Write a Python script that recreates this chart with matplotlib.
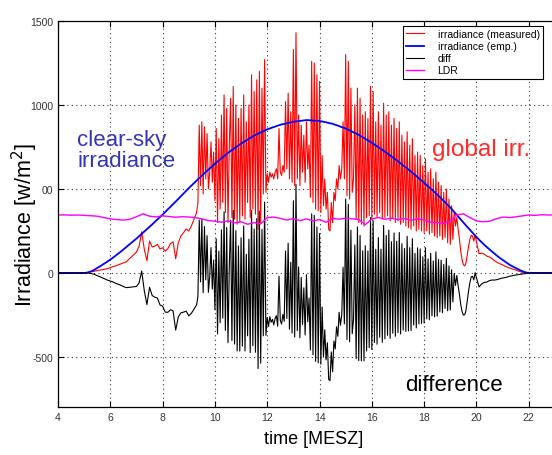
import numpy as np
import matplotlib
matplotlib.use("Agg")
import matplotlib.pyplot as plt

plt.rcParams['font.family'] = ['Liberation Sans', 'DejaVu Sans']

# time axis [h MESZ]: 0.1 h steps morning/evening, 0.05 h around midday
t_am = np.arange(40, 94) / 10.0      # 4.0 .. 9.3
t_mid = np.arange(187, 400) / 20.0   # 9.35 .. 19.95
t_pm = np.arange(200, 241) / 10.0    # 20.0 .. 24.0

# measured global irradiance [W/m2]
meas_am = [0, 0, 0, 0, 0, 0, 0, 0, 0, 0,
           0, 2, 5, 8, 11, 14, 17, 20, 23, 26,
           32, 38, 42, 48, 54, 60, 66, 80, 95, 110,
           125, 160, 245, 140, 73, 190, 155, 160, 170, 143,
           150, 130, 145, 175, 185, 85, 180, 220, 240, 262,
           250, 280, 320, 360]
meas_mid = [420, 880, 520, 900, 470, 870, 560, 830, 500, 600,
            780, 540, 720, 430, 860, 300, 800, 380, 940, 420,
            1060, 360, 980, 300, 760, 1040, 330, 1110, 320, 1000,
            290, 920, 300, 980, 340, 1060, 320, 900, 420, 1000,
            330, 1180, 380, 1080, 350, 1150, 260, 1200, 300, 1100,
            470, 1270, 480, 590, 540, 600, 570, 590, 560, 600,
            620, 560, 860, 600, 580, 640, 600, 1020, 620, 1070,
            560, 960, 540, 1330, 520, 1430, 560, 940, 520, 880,
            600, 820, 540, 900, 620, 760, 450, 1260, 420, 1250,
            380, 1180, 370, 1140, 360, 700, 400, 560, 380, 480,
            260, 250, 420, 300, 480, 430, 560, 500, 640, 560,
            620, 900, 560, 1300, 460, 1260, 440, 1100, 480, 560,
            1000, 320, 1100, 300, 1040, 290, 940, 280, 960, 330,
            920, 340, 1110, 320, 1080, 350, 900, 330, 960, 360,
            880, 320, 1010, 330, 940, 340, 960, 310, 880, 330,
            920, 300, 860, 310, 900, 290, 820, 300, 780, 280,
            840, 270, 760, 260, 800, 280, 700, 250, 720, 260,
            700, 250, 640, 240, 680, 250, 600, 230, 620, 240,
            560, 220, 600, 210, 540, 220, 520, 200, 480, 210,
            500, 180, 440, 170, 400, 200, 360, 280, 330, 260,
            200, 130, 80, 50, 42, 60, 110, 160, 200, 225,
            220, 190, 225]
meas_pm = [185, 115, 118, 112, 100, 95, 85, 72, 62, 55,
           48, 40, 33, 28, 23, 18, 12, 7, 3, 1] + [0] * 21

# empirical clear-sky irradiance [W/m2]
emp_am = [0, 0, 0, 0, 0, 0, 0, 0, 0, 0,
          0, 2, 6, 12, 20, 30, 39, 49, 59, 69,
          80, 91, 103, 115, 127, 140, 153, 166, 179, 192,
          205, 219, 233, 247, 261, 275, 289, 304, 319, 333,
          348, 363, 379, 394, 410, 425, 441, 457, 473, 489,
          505, 520, 535, 550]
emp_mid = [558, 565, 573, 580, 587, 594, 601, 608, 615, 622,
           629, 636, 643, 650, 657, 663, 670, 676, 683, 689,
           696, 702, 709, 715, 721, 726, 732, 737, 743, 748,
           754, 759, 765, 770, 775, 780, 784, 789, 794, 799,
           804, 808, 813, 818, 822, 826, 829, 833, 837, 840,
           844, 848, 851, 855, 858, 860, 863, 866, 869, 871,
           874, 877, 879, 882, 884, 886, 887, 889, 891, 893,
           895, 896, 898, 900, 901, 902, 903, 904, 905, 906,
           907, 908, 909, 910, 910, 909, 909, 908, 907, 907,
           906, 906, 905, 905, 903, 902, 900, 898, 897, 895,
           893, 891, 890, 888, 885, 882, 880, 877, 874, 871,
           868, 866, 863, 860, 856, 852, 849, 845, 841, 837,
           833, 830, 826, 822, 817, 813, 808, 803, 798, 794,
           789, 784, 780, 775, 770, 764, 759, 754, 749, 743,
           738, 733, 727, 722, 716, 711, 705, 699, 694, 688,
           682, 677, 671, 665, 659, 653, 646, 640, 634, 628,
           622, 615, 609, 603, 596, 590, 583, 577, 570, 563,
           557, 550, 544, 537, 530, 523, 516, 509, 502, 495,
           488, 481, 474, 467, 459, 452, 444, 436, 429, 421,
           413, 405, 398, 390, 381, 372, 363, 354, 345, 336,
           327, 318, 309, 300, 291, 283, 274, 266, 257, 248,
           240, 231, 223]
emp_pm = [214, 198, 183, 168, 154, 140, 127, 114, 101, 89,
          78, 67, 56, 46, 38, 30, 22, 14, 8, 3] + [0] * 21

# LDR sensor reading, every 15 min
t_ldr = np.arange(0, 81) / 4.0 + 4.0
ldr = [345, 346, 344, 345, 343, 341, 338, 330, 322, 318,
       315, 320, 335, 352, 338, 334, 340, 336, 332, 335,
       333, 330, 322, 312, 308, 302, 310, 298, 305, 290,
       300, 292, 330, 333, 325, 315, 324, 312, 322, 310,
       318, 302, 325, 320, 327, 322, 318, 288, 322, 330,
       320, 326, 318, 324, 314, 322, 316, 302, 300, 296,
       310, 345, 352, 330, 310, 305, 308, 322, 333, 330,
       334, 340, 345, 343, 347, 345, 346, 344, 347, 345,
       346]

yticks = [-500, 0, 500, 1000, 1500]
ytick_labels = ['-500', '0', '00', '1000', '1500']
xticks = [4, 6, 8, 10, 12, 14, 16, 18, 20, 22]

hours = np.concatenate([t_am, t_mid, t_pm])
meas = np.concatenate([meas_am, meas_mid, meas_pm]).astype(float)
emp = np.concatenate([emp_am, emp_mid, emp_pm]).astype(float)
diff = meas - emp

fig = plt.figure(figsize=(5.52, 4.56), dpi=100)
ax = fig.add_axes([0.1051, 0.1044, 0.9475, 0.8474])

ax.plot(hours, meas, color='#ff0000', lw=0.8, label='irradiance (measured)')
ax.plot(hours, emp, color='#0000ff', lw=1.3, label='irradiance (emp.)')
ax.plot(hours, diff, color='black', lw=0.8, label='diff')
ax.plot(t_ldr, ldr, color='#ff00ff', lw=1.0, label='LDR')

ax.set_xlim(4, 24)
ax.set_ylim(-800, 1500)
ax.set_xticks(xticks)
ax.set_yticks(yticks)
ax.set_yticklabels(ytick_labels)
ax.tick_params(direction='in', top=True, right=True, labelsize=7.5,
               labelcolor='#333333', length=4, width=0.8)
ax.grid(True, linestyle=(0, (1, 3)), color='#333333', linewidth=0.8)
for s in ax.spines.values():
    s.set_linewidth(0.9)

leg = ax.legend(loc='upper right', bbox_to_anchor=(0.927, 0.987),
                borderaxespad=0, fontsize=7.5, fancybox=False,
                edgecolor='black', framealpha=1, labelspacing=0.2,
                handlelength=1.7, handletextpad=1.3, borderpad=0.3)
leg.get_frame().set_linewidth(0.8)

ax.text(4.73, 732, 'clear-sky\nirradiance', color='#3535b5', fontsize=16,
        ha='left', va='center', linespacing=1.05)
ax.text(18.3, 738, 'global irr.', color='#ff2a2a', fontsize=17.5,
        ha='left', va='center')
ax.text(17.27, -661, 'difference', color='black', fontsize=16,
        ha='left', va='center')

fig.text(25 / 552, 1 - 225 / 456, 'Irradiance [w/m$^2$]', rotation=90,
         fontsize=15.5, ha='center', va='center')
fig.text(314 / 552, 1 - 440 / 456, 'time [MESZ]', fontsize=13,
         ha='center', va='center')

fig.savefig('out.png', dpi=100)
